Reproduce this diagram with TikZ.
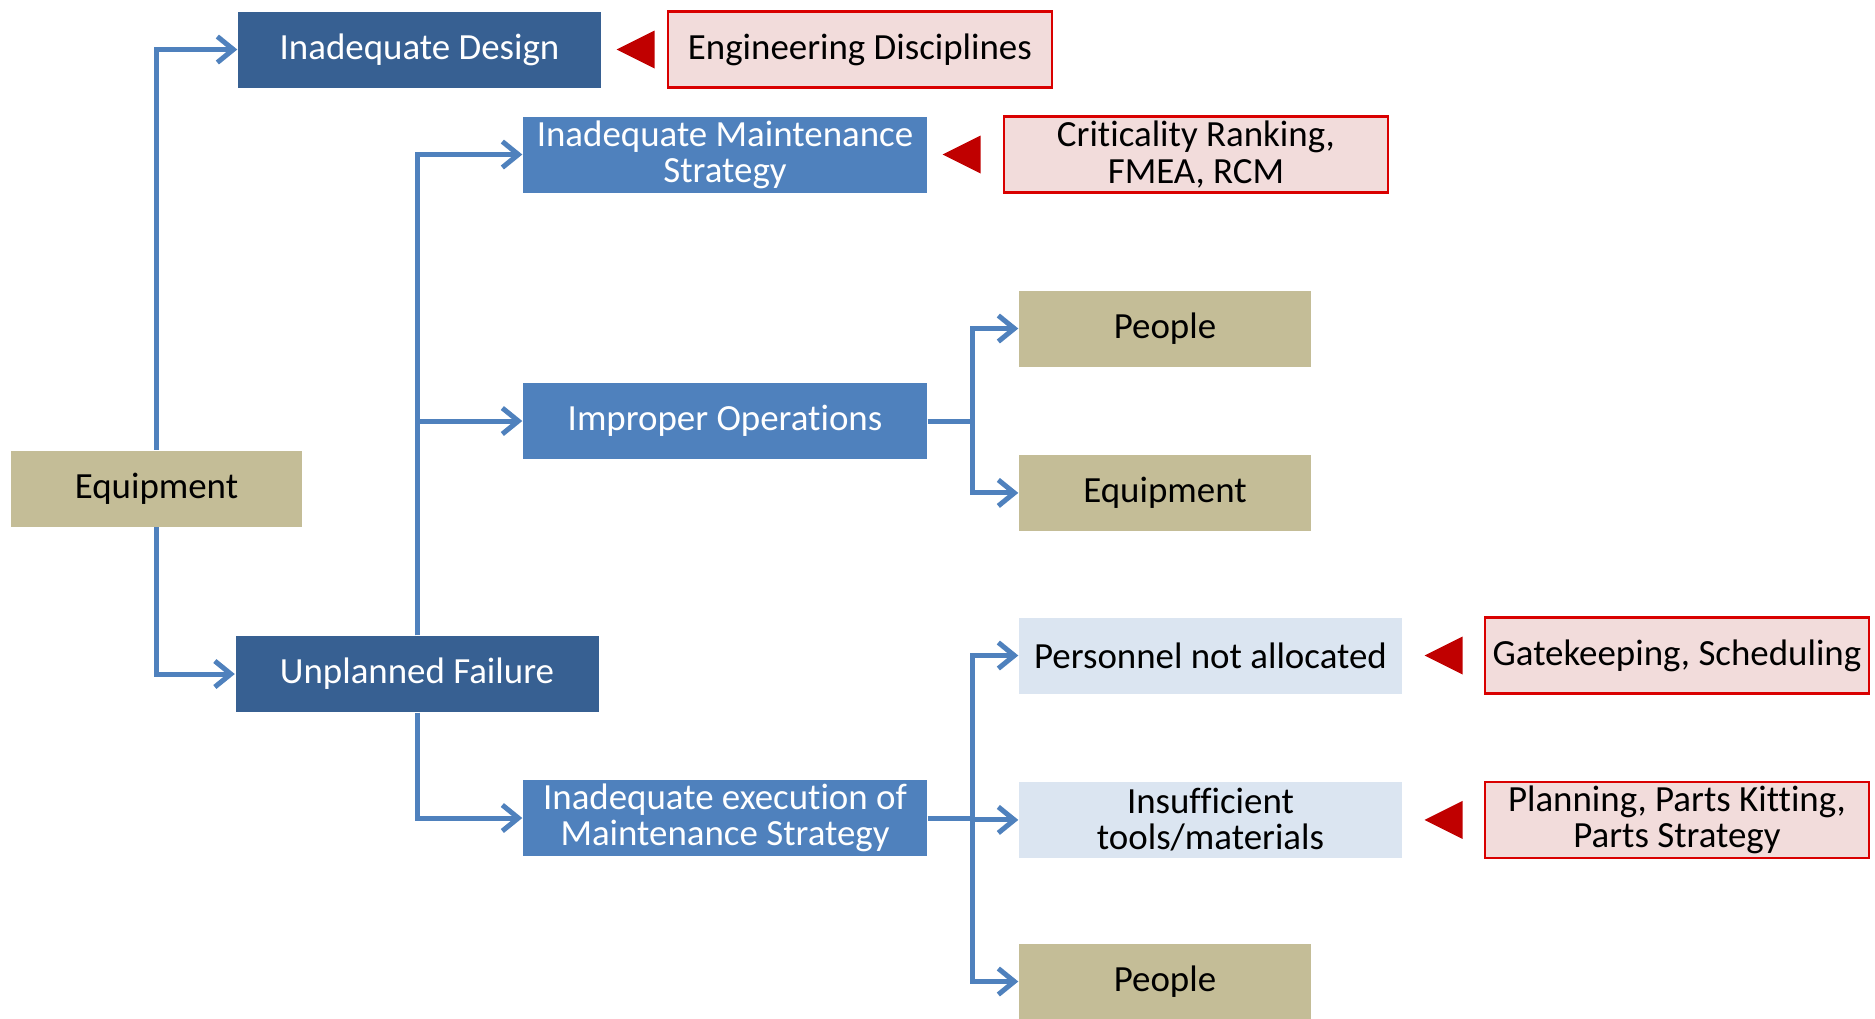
\documentclass[tikz,border=0pt]{standalone}
\usepackage{fontspec}
\setmainfont[Ligatures=NoCommon,Contextuals=NoAlternate]{Carlito}
\usetikzlibrary{positioning,arrows.meta,shapes.geometric}

\definecolor{navy}{HTML}{376092}
\definecolor{steel}{HTML}{4F81BD}
\definecolor{khaki}{HTML}{C4BD97}
\definecolor{mist}{HTML}{DBE5F1}
\definecolor{blush}{HTML}{F2DCDB}
\definecolor{alarm}{HTML}{C00000}

\begin{document}
\begin{tikzpicture}[
  every node/.style={font=\fontsize{10.5}{10.3}\selectfont},
  box/.style={rectangle, inner sep=1pt, align=center, minimum height=7.6mm},
  cause/.style={box, fill=navy, text=white, minimum width=36.3mm},
  mode/.style={box, fill=steel, text=white, minimum width=40.4mm},
  item/.style={box, fill=khaki, minimum width=29.2mm},
  gap/.style={box, fill=mist, minimum width=38.3mm},
  fix/.style={box, fill=blush, draw=red!85!black, line width=0.7pt, minimum width=38.4mm},
  flag/.style={isosceles triangle, shape border rotate=180, isosceles triangle stretches,
    fill=alarm, inner sep=0pt, minimum width=3.8mm, minimum height=3.8mm},
  link/.style={draw=steel, line width=0.5mm},
  feed/.style={link, -{Straight Barb[length=1.6mm,width=2.6mm]}}]
\useasboundingbox (0,0) rectangle (187.5mm,-101.8mm);

% root and the two failure causes
\node[item, minimum width=29.1mm] (root) at (15.65mm,-48.85mm) {Equipment};
\node[cause] (design) at (41.95mm,-4.95mm) {Inadequate Design};
\node[cause] (unpl) at (41.7mm,-67.4mm) {Unplanned Failure};

% failure modes
\node[mode] (maint) at (72.5mm,-15.45mm) {Inadequate Maintenance\\Strategy};
\node[mode] (ops) at (72.5mm,-42.1mm) {Improper Operations};
\node[mode] (exec) at (72.5mm,-81.8mm) {Inadequate execution of\\Maintenance Strategy};

% contributing factors
\node[item] (people1) at (116.5mm,-32.85mm) {People};
\node[item, below=8.7mm of people1] (equip2) {Equipment};
\node[gap] (pers) at (121.05mm,-65.55mm) {Personnel not allocated};
\node[gap, below=8.7mm of pers] (insuf) {Insufficient\\tools/materials};
\node[item] (people2) at (116.5mm,-98.15mm) {People};

% remedies with their pointers
\node[fix, right=6.5mm of design] (eng) {Engineering Disciplines};
\node[fix, right=7.5mm of maint] (crit) {Criticality Ranking,\\FMEA, RCM};
\node[fix, right=8.1mm of pers] (gate) {Gatekeeping, Scheduling};
\node[fix, right=8.1mm of insuf] (plan) {Planning, Parts Kitting,\\Parts Strategy};
\node[flag, right=1.3mm of design] (flag1) {};
\node[flag, right=1.3mm of maint] (flag2) {};
\node[flag, right=2mm of pers] (flag3) {};
\node[flag, right=2mm of insuf] (flag4) {};

% connectors
\draw[feed] (root.north) |- (design.west);
\draw[feed] (root.south) |- (unpl.west);
\draw[feed] (unpl.north) |- (maint.west);
\draw[feed] (unpl.north) |- (ops.west);
\draw[feed] (unpl.south) |- (exec.west);
\draw[link] (ops.east) -- ++(4.5mm,0) coordinate (opsfork);
\draw[feed] (opsfork) |- (people1.west);
\draw[feed] (opsfork) |- (equip2.west);
\draw[link] (exec.east) -- ++(4.5mm,0) coordinate (execfork);
\draw[feed] (execfork) |- (pers.west);
\draw[feed] (execfork) |- (insuf.west);
\draw[feed] (execfork) |- (people2.west);
\end{tikzpicture}
\end{document}
